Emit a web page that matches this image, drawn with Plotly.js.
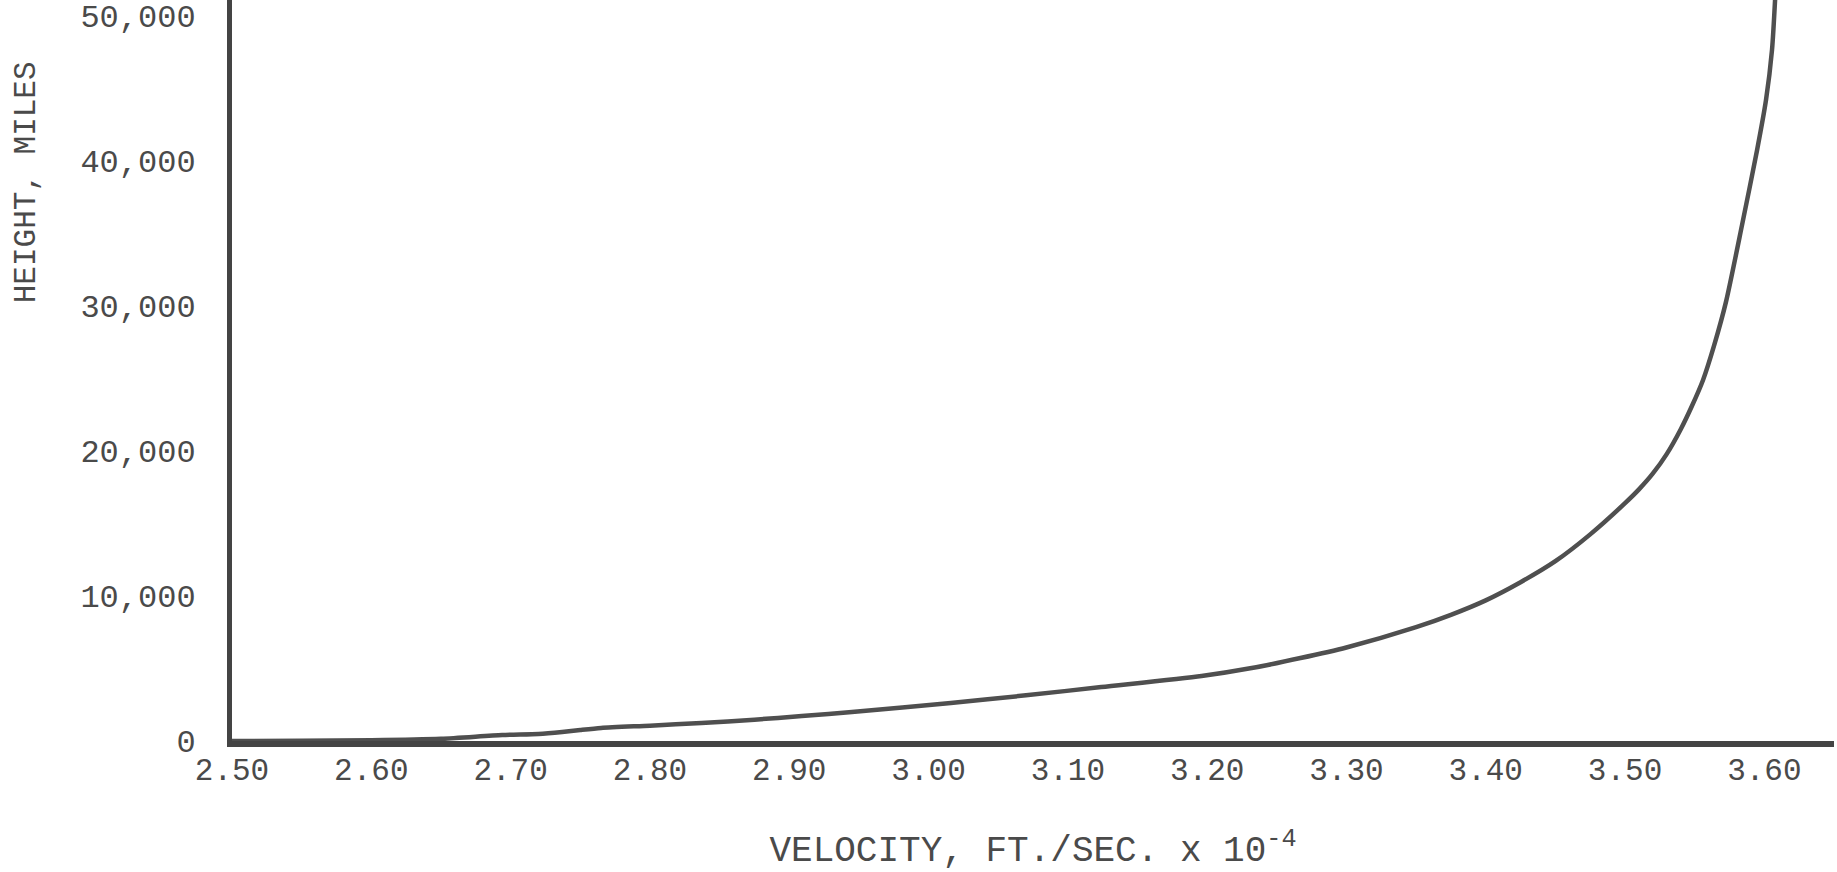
<!DOCTYPE html>
<html>
<head>
<meta charset="utf-8">
<script src="https://cdn.plot.ly/plotly-3.0.1.min.js"></script>
<style>
html,body{margin:0;padding:0;background:#fff;}
#chart{width:1837px;height:872px;}
</style>
</head>
<body>
<div id="chart"></div>
<script>
// Velocity (ft/sec x 10^-4) and height (miles)
const velocity = [2.50, 2.55, 2.60, 2.65, 2.694, 2.72, 2.737, 2.75, 2.765, 2.80, 2.837, 2.875, 2.909, 2.945, 3.016, 3.07, 3.124, 3.196, 3.232, 3.267, 3.30, 3.35, 3.375, 3.40, 3.425, 3.45, 3.475, 3.50, 3.51, 3.52, 3.53, 3.54, 3.548, 3.556, 3.564, 3.5725, 3.584, 3.5948, 3.6012, 3.6055, 3.6077];
const height   = [0, 20, 50, 150, 410, 480, 620, 760, 900, 1060, 1240, 1470, 1720, 2000, 2620, 3150, 3720, 4480, 5030, 5720, 6450, 7850, 8700, 9700, 10950, 12400, 14250, 16400, 17350, 18450, 19800, 21500, 23100, 24900, 27300, 30300, 35590, 40760, 44210, 47660, 51100];

const xTickVals = [2.50, 2.60, 2.70, 2.80, 2.90, 3.00, 3.10, 3.20, 3.30, 3.40, 3.50, 3.60];
const xTickText = ["2.50", "2.60", "2.70", "2.80", "2.90", "3.00", "3.10", "3.20", "3.30", "3.40", "3.50", "3.60"];
const yTickVals = [0, 10000, 20000, 30000, 40000, 50000];
const yTickText = ["0", "10,000", "20,000", "30,000", "40,000", "50,000"];

const fontFam = "Liberation Mono, Courier New, monospace";
const ink = "#4a4a4a";

const trace = {
  x: velocity,
  y: height,
  type: "scatter",
  mode: "lines",
  line: {color: "#4f4f4f", width: 4.5, shape: "spline", smoothing: 0.7},
  hoverinfo: "skip"
};

const layout = {
  width: 1837,
  height: 872,
  margin: {l: 232, r: 3, t: 0, b: 131},
  paper_bgcolor: "#ffffff",
  plot_bgcolor: "#ffffff",
  showlegend: false,
  font: {family: fontFam, color: ink, size: 31},
  xaxis: {
    range: [2.50, 3.65],
    showgrid: false,
    zeroline: false,
    showline: true,
    linecolor: "#444444",
    linewidth: 6,
    ticks: "",
    tickvals: xTickVals,
    ticktext: xTickText,
    tickfont: {family: fontFam, color: ink, size: 31},
    ticklabelstandoff: -4,
    title: {
      text: "VELOCITY, FT./SEC. x 10<sup>-4</sup>",
      font: {family: fontFam, color: ink, size: 36},
      standoff: 50
    }
  },
  yaxis: {
    range: [0, 51100],
    showgrid: false,
    zeroline: false,
    showline: true,
    linecolor: "#444444",
    linewidth: 5,
    ticks: "",
    tickvals: yTickVals,
    ticktext: yTickText,
    tickfont: {family: fontFam, color: ink, size: 32},
    ticklabelstandoff: 25
  },
  annotations: [{
    text: "HEIGHT, MILES",
    xref: "paper", yref: "paper",
    x: 0, y: 0.754,
    xanchor: "center", yanchor: "middle",
    xshift: -206,
    textangle: -90,
    showarrow: false,
    font: {family: fontFam, color: ink, size: 31}
  }]
};

Plotly.newPlot("chart", [trace], layout, {displayModeBar: false, staticPlot: true});
</script>
</body>
</html>
